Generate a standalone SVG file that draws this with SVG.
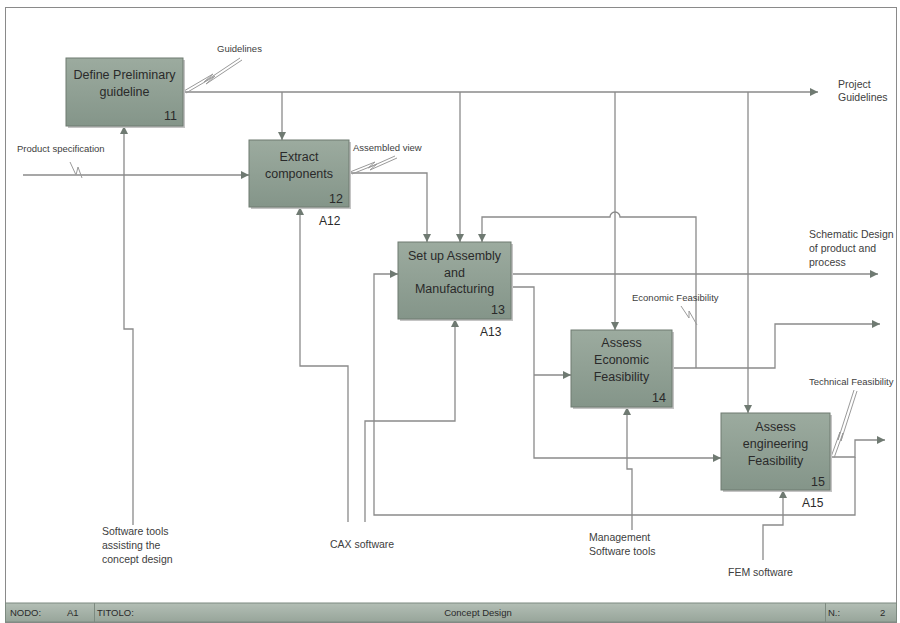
<svg xmlns="http://www.w3.org/2000/svg" width="900" height="623" viewBox="0 0 900 623">
<defs>
<linearGradient id="boxg" x1="0" y1="0" x2="0" y2="1">
<stop offset="0" stop-color="#9cab9f"/>
<stop offset="1" stop-color="#849589"/>
</linearGradient>
<linearGradient id="footg" x1="0" y1="0" x2="0" y2="1">
<stop offset="0" stop-color="#b3beb5"/>
<stop offset="1" stop-color="#97a59a"/>
</linearGradient>
<marker id="arr" viewBox="0 0 10 10" refX="10" refY="5" markerWidth="8" markerHeight="8" markerUnits="userSpaceOnUse" orient="auto">
<path d="M0,0 L10,5 L0,10 z" fill="#6f7a72"/>
</marker>
<style>
.box{fill:url(#boxg);stroke:#6e7b71;stroke-width:1}
.shadow{fill:#c4c4c4}
.bt{font-family:"Liberation Sans",Arial,sans-serif;font-size:12.5px;fill:#2a2a2a;text-anchor:middle}
.num{font-family:"Liberation Sans",Arial,sans-serif;font-size:12.5px;fill:#2a2a2a;text-anchor:end}
.an{font-family:"Liberation Sans",Arial,sans-serif;font-size:12px;fill:#2a2a2a}
.lb{font-family:"Liberation Sans",Arial,sans-serif;font-size:9.5px;fill:#404040}
.lg{font-family:"Liberation Sans",Arial,sans-serif;font-size:10.5px;fill:#404040}
.ft{font-family:"Liberation Sans",Arial,sans-serif;font-size:9.5px;fill:#2a2a2a}
.c{fill:none;stroke:#8a8a8a;stroke-width:1.3}
.ca{fill:none;stroke:#8a8a8a;stroke-width:1.3;marker-end:url(#arr)}
.sq{fill:none;stroke:#9a9a9a;stroke-width:1}
</style>
</defs>
<rect x="0" y="0" width="900" height="623" fill="#ffffff"/>
<rect x="5.5" y="7.5" width="891" height="615" fill="none" stroke="#8a8a8a" stroke-width="1"/>

<g id="connectors">
<path class="ca" d="M183,92 H818"/>
<path class="ca" d="M282,92 V140"/>
<path class="ca" d="M460,92 V242"/>
<path class="ca" d="M615,92 V330"/>
<path class="ca" d="M748,92 V413"/>
<path class="ca" d="M23,175 H249"/>
<path class="ca" d="M133,525 V329 H124 V126"/>
<path class="ca" d="M348,522 V366 H300 V207"/>
<path class="ca" d="M365,522 V421 H455 V319"/>
<path class="ca" d="M349,173 H427 V242"/>
<path class="ca" d="M511,274 H878"/>
<path class="ca" d="M511,287 H534 V458 H721"/>
<path class="ca" d="M534,375 H571"/>
<path class="ca" d="M672,368 H775 V324 H880"/>
<path class="ca" d="M696,368 V217 H620 A5,5 0 0 0 610,217 H482 V242"/>
<path class="ca" d="M632,530 V469 H627 V407"/>
<path class="ca" d="M830,457 H855 V440 H885"/>
<path class="ca" d="M855,457 V515 H374 V274 H398"/>
<path class="ca" d="M763,560 V525 H783 V490"/>
<!-- squiggles -->
<path class="sq" d="M184,91 L213,74 L204,82 L240,58"/>
<path class="sq" d="M186,93 L215,76 L206,84 L242,60"/>
<path class="sq" d="M350,172 L375,162 L368,168 L395,156"/>
<path class="sq" d="M352,174 L377,164 L370,170 L397,158"/>
<path class="sq" d="M70,162 L76,175 L78,167 L82,178"/>
<path class="sq" d="M681,306 L689,318 L689,311 L697,325"/>
<path class="sq" d="M831,457 L840,432 L838,440 L854,390"/>
<path class="sq" d="M834,458 L843,433 L841,441 L857,391"/>
</g>

<g id="node-11">
<rect class="shadow" x="68" y="60" width="117" height="68"/>
<rect class="box" x="66" y="58" width="117" height="68"/>
<text class="bt" x="124.5" y="79">Define Preliminary</text>
<text class="bt" x="124.5" y="96">guideline</text>
<text class="num" x="177" y="120">11</text>
</g>

<g id="node-12">
<rect class="shadow" x="251" y="142" width="100" height="67"/>
<rect class="box" x="249" y="140" width="100" height="67"/>
<text class="bt" x="299" y="161">Extract</text>
<text class="bt" x="299" y="178">components</text>
<text class="num" x="343" y="203">12</text>
<text class="an" x="319" y="225">A12</text>
</g>

<g id="node-13">
<rect class="shadow" x="400" y="244" width="113" height="77"/>
<rect class="box" x="398" y="242" width="113" height="77"/>
<text class="bt" x="454.5" y="260">Set up Assembly</text>
<text class="bt" x="454.5" y="277">and</text>
<text class="bt" x="454.5" y="293">Manufacturing</text>
<text class="num" x="505" y="314">13</text>
<text class="an" x="480" y="336">A13</text>
</g>

<g id="node-14">
<rect class="shadow" x="573" y="332" width="101" height="77"/>
<rect class="box" x="571" y="330" width="101" height="77"/>
<text class="bt" x="621.5" y="347">Assess</text>
<text class="bt" x="621.5" y="364">Economic</text>
<text class="bt" x="621.5" y="381">Feasibility</text>
<text class="num" x="666" y="402">14</text>
</g>

<g id="node-15">
<rect class="shadow" x="723" y="415" width="109" height="77"/>
<rect class="box" x="721" y="413" width="109" height="77"/>
<text class="bt" x="775.5" y="431">Assess</text>
<text class="bt" x="775.5" y="448">engineering</text>
<text class="bt" x="775.5" y="465">Feasibility</text>
<text class="num" x="825" y="486">15</text>
<text class="an" x="802" y="507">A15</text>
</g>

<g id="labels">
<text class="lb" x="217" y="52">Guidelines</text>
<text class="lb" x="17" y="152">Product specification</text>
<text class="lb" x="353" y="151">Assembled view</text>
<text class="lg" x="838" y="88">Project</text>
<text class="lg" x="838" y="101">Guidelines</text>
<text class="lg" x="809" y="238">Schematic Design</text>
<text class="lg" x="809" y="252">of product and</text>
<text class="lg" x="809" y="266">process</text>
<text class="lb" x="632" y="301">Economic Feasibility</text>
<text class="lb" x="809" y="385">Technical Feasibility</text>
<text class="lg" x="102" y="535">Software tools</text>
<text class="lg" x="102" y="549">assisting the</text>
<text class="lg" x="102" y="563">concept design</text>
<text class="lg" x="330" y="548">CAX software</text>
<text class="lg" x="589" y="541">Management</text>
<text class="lg" x="589" y="555">Software tools</text>
<text class="lg" x="728" y="576">FEM software</text>
</g>

<g id="footer">
<rect x="5.5" y="603" width="891" height="19" fill="url(#footg)" stroke="#7d8a80" stroke-width="1"/>
<line x1="94.5" y1="603" x2="94.5" y2="622" stroke="#7d8a80"/>
<line x1="825.5" y1="603" x2="825.5" y2="622" stroke="#7d8a80"/>
<text class="ft" x="10" y="616">NODO:</text>
<text class="ft" x="67" y="616">A1</text>
<text class="ft" x="97" y="616">TITOLO:</text>
<text class="ft" x="478" y="616" text-anchor="middle">Concept Design</text>
<text class="ft" x="828" y="616">N.:</text>
<text class="ft" x="880" y="616">2</text>
</g>
</svg>
